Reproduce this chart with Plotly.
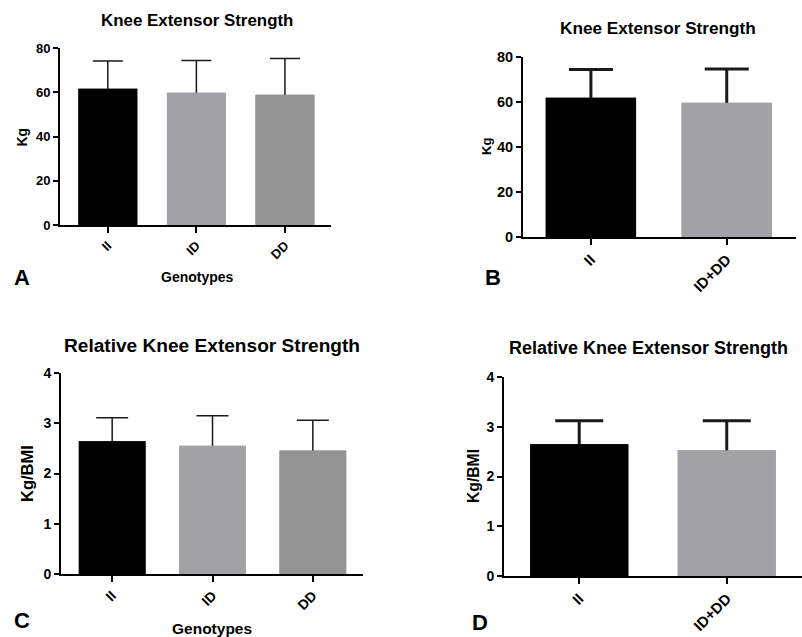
import plotly.graph_objects as go

# ---- data ----
genotypes3 = ["II", "ID", "DD"]
genotypes2 = ["II", "ID+DD"]

kes_mean_3 = [61.6, 59.8, 58.9]
kes_err_3 = [12.5, 14.5, 16.3]

kes_mean_2 = [61.9, 59.7]
kes_err_2 = [12.5, 15.0]

rel_mean_3 = [2.64, 2.55, 2.46]
rel_err_3 = [0.47, 0.60, 0.60]

rel_mean_2 = [2.65, 2.53]
rel_err_2 = [0.47, 0.59]

colors3 = ["#000000", "#a2a2a6", "#949494"]
colors2 = ["#000000", "#a2a2a6"]

W, H = 802, 637
FONT = "Liberation Sans, Arial, sans-serif"

def px(x):
    return x / W

def py(y):
    return 1 - y / H

fig = go.Figure()

panels = [
    # cats, means, errs, colors, xdom px, ydom px (top,bottom), yrange, dtick, cap half-width, thickness, xrange, xtick font, ytick font
    (genotypes3, kes_mean_3, kes_err_3, colors3, (60, 331), (48, 225), [0, 80], 20, 15, 1.5, [-0.54, 2.52], 13, 13),
    (genotypes2, kes_mean_2, kes_err_2, colors2, (523, 796), (57, 237), [0, 80], 20, 22, 3, [-0.5, 1.51], 15, 14.5),
    (genotypes3, rel_mean_3, rel_err_3, colors3, (61, 363), (373, 574), [0, 4], 1, 16, 1.5, [-0.51, 2.5], 14, 14),
    (genotypes2, rel_mean_2, rel_err_2, colors2, (504, 802), (377, 576), [0, 4], 1, 24, 3, [-0.51, 1.51], 15, 14),
]

for i, (cats, means, errs, cols, xd, yd, yr, dt, capw, thick, xr, xtf, ytf) in enumerate(panels):
    n = i + 1
    xa = "x" if n == 1 else f"x{n}"
    ya = "y" if n == 1 else f"y{n}"
    # bars carrying the (upper) error bars
    fig.add_trace(go.Bar(
        x=cats, y=means,
        marker=dict(color=cols, line=dict(width=0)),
        width=0.665,
        error_y=dict(type="data", symmetric=True, array=errs,
                     color="#1a1a1a", thickness=thick, width=capw),
        xaxis=xa, yaxis=ya, showlegend=False, hoverinfo="skip",
    ))
    # same bars drawn on top to hide the lower half of the error bars
    fig.add_trace(go.Bar(
        x=cats, y=means,
        marker=dict(color=cols, line=dict(width=0)),
        width=0.665,
        xaxis=xa, yaxis=ya, showlegend=False,
    ))
    xkey = "xaxis" if n == 1 else f"xaxis{n}"
    ykey = "yaxis" if n == 1 else f"yaxis{n}"
    fig.layout[xkey] = dict(
        domain=[px(xd[0]), px(xd[1])], anchor=ya, range=xr, automargin=False,
        showline=True, linecolor="black", linewidth=2,
        ticks="outside", ticklen=6, tickwidth=2, tickcolor="black",
        tickangle=-45, showgrid=False, zeroline=False,
        tickfont=dict(family=FONT, size=xtf, color="black", weight="bold"),
    )
    fig.layout[ykey] = dict(
        domain=[py(yd[1]), py(yd[0])], anchor=xa, range=yr, dtick=dt, automargin=False,
        showline=True, linecolor="black", linewidth=2,
        ticks="outside", ticklen=5, tickwidth=2, tickcolor="black",
        showgrid=False, zeroline=False,
        tickfont=dict(family=FONT, size=ytf, color="black", weight="bold"),
    )

ann = []

def txt(x, y, s, size, angle=0):
    ann.append(dict(x=px(x), y=py(y), xref="paper", yref="paper", text=s,
                    showarrow=False, textangle=angle, xanchor="center", yanchor="middle",
                    font=dict(family=FONT, size=size, color="black", weight="bold")))

# titles
txt(197, 21, "Knee Extensor Strength", 16.9)
txt(658, 28, "Knee Extensor Strength", 17.2)
txt(212, 345, "Relative Knee Extensor Strength", 19.1)
txt(648, 348, "Relative Knee Extensor Strength", 18.0)
# y titles
txt(21.5, 137, "Kg", 14, -90)
txt(486, 147, "Kg", 13, -90)
txt(27, 474, "Kg/BMI", 16.5, -90)
txt(473, 476, "Kg/BMI", 15.7, -90)
# x titles
txt(197, 277, "Genotypes", 14)
txt(212, 628, "Genotypes", 15.5)
# panel letters
txt(22, 277, "A", 22)
txt(493, 277, "B", 22)
txt(22, 620, "C", 22)
txt(480, 622, "D", 22)

fig.update_layout(
    width=W, height=H, margin=dict(l=0, r=0, t=0, b=0, autoexpand=False),
    paper_bgcolor="white", plot_bgcolor="white",
    annotations=ann, barmode="overlay",
)

page_css = (
    "document.documentElement.style.margin='0';"
    "document.body.style.margin='0';"
    "document.documentElement.style.overflow='hidden';"
)

fig.write_html(
    "out.html",
    config={"displayModeBar": False},
    post_script=page_css,
)
